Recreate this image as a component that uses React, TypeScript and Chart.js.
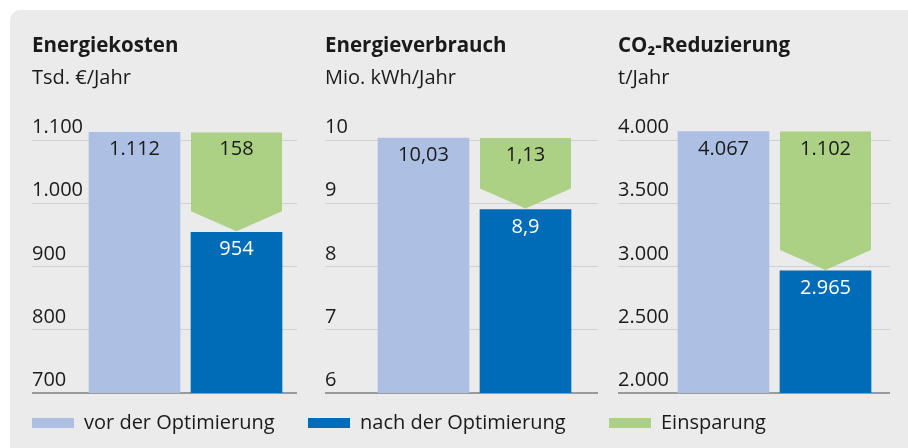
import React, { useEffect, useRef } from "react";
import { Chart, registerables } from "chart.js";

Chart.register(...registerables);

// ---------- data ----------
const categories = ["vor der Optimierung", "nach der Optimierung", "Einsparung"];
const panelTitles = ["Energiekosten", "Energieverbrauch", "CO₂-Reduzierung"];
const panelUnits = ["Tsd. €/Jahr", "Mio. kWh/Jahr", "t/Jahr"];
const vorValues = [1112, 10.03, 4067];
const nachValues = [954, 8.9, 2965];
const einsparungValues = [158, 1.13, 1102];
const ticksKosten = [700, 800, 900, 1000, 1100];
const ticksVerbrauch = [6, 7, 8, 9, 10];
const ticksCO2 = [2000, 2500, 3000, 3500, 4000];
const panelTicks = [ticksKosten, ticksVerbrauch, ticksCO2];

// ---------- style / layout ----------
const FONT = "'Open Sans', 'Noto Sans', sans-serif";
const TEXT = "#1a1a1a";
const C_VOR = "#adc0e4";
const C_NACH = "#006bb6";
const C_EIN = "#acd084";
const BG = "#ebebeb";
const GRID = "#d0d0d0";
const AXIS = "#9a9a9a";
const LEGEND_PAD = 20;
const BAR_W = 91;
const BAR_PITCH = 102;
const layouts = [
  { legendX: 32, labelX: 32, barStart: 89, gridEnd: 297 },
  { legendX: 308, labelX: 325, barStart: 378, gridEnd: 598 },
  { legendX: 609, labelX: 618, barStart: 678, gridEnd: 890 },
];
const CANVAS_TOP = 10;
const CANVAS_H = 433;

function fmtDe(v: number): string {
  const neg = v < 0;
  const s = String(Math.abs(v));
  const [ip, dp] = s.split(".");
  const grouped = ip.replace(/\B(?=(\d{3})+(?!\d))/g, ".");
  return (neg ? "-" : "") + grouped + (dp ? "," + dp : "");
}

const chevronAndLabels = {
  id: "chevronAndLabels",
  beforeDatasetDraw(chart: any, args: any) {
    if (args.index !== 2) return;
    const el = args.meta.data[0];
    if (!el) return false;
    const { ctx } = chart;
    const top = Math.min(el.y, el.base);
    const bottom = Math.max(el.y, el.base) - 1;
    const half = el.width / 2;
    const depth = 20;
    ctx.save();
    ctx.fillStyle = chart.data.datasets[2].backgroundColor;
    ctx.beginPath();
    ctx.moveTo(el.x - half, top);
    ctx.lineTo(el.x + half, top);
    ctx.lineTo(el.x + half, bottom - depth);
    ctx.lineTo(el.x, bottom);
    ctx.lineTo(el.x - half, bottom - depth);
    ctx.closePath();
    ctx.fill();
    ctx.restore();
    return false;
  },
  afterDatasetsDraw(chart: any) {
    const { ctx } = chart;
    const labels: string[] = chart.options.plugins.chevronAndLabels.labels;
    const colors: string[] = chart.options.plugins.chevronAndLabels.colors;
    ctx.save();
    ctx.font = `20px ${FONT}`;
    ctx.textAlign = "center";
    ctx.textBaseline = "alphabetic";
    chart.data.datasets.forEach((ds: any, i: number) => {
      const el = chart.getDatasetMeta(i).data[0];
      if (!el) return;
      const top = Math.min(el.y, el.base);
      ctx.fillStyle = colors[i];
      ctx.fillText(labels[i], el.x, top + 23);
    });
    ctx.restore();
  },
};

function Panel({ idx }: { idx: number }) {
  const ref = useRef<HTMLCanvasElement>(null);
  const L = layouts[idx];
  const left = L.legendX - LEGEND_PAD;
  const width = L.gridEnd - left;
  useEffect(() => {
    const ticks = panelTicks[idx];
    const step = ticks[1] - ticks[0];
    const yMin = ticks[0];
    const yMax = ticks[ticks.length - 1] + step / 2;
    const plotW = L.gridEnd - L.labelX;
    const firstCenter = L.barStart - L.labelX + BAR_W / 2;
    const xMin = -firstCenter / BAR_PITCH;
    const xMax = (plotW - firstCenter) / BAR_PITCH;
    const chart = new Chart(ref.current as HTMLCanvasElement, {
      type: "bar",
      data: {
        datasets: [
          {
            label: categories[0],
            data: [{ x: 0, y: vorValues[idx] }],
            backgroundColor: C_VOR,
            borderWidth: 0,
          },
          {
            label: categories[1],
            data: [{ x: 1, y: nachValues[idx] }],
            backgroundColor: C_NACH,
            borderWidth: 0,
          },
          {
            label: categories[2],
            data: [{ x: 1, y: [nachValues[idx], nachValues[idx] + einsparungValues[idx]] }],
            backgroundColor: C_EIN,
            borderWidth: 0,
          },
        ] as any,
      },
      options: {
        animation: false,
        responsive: false,
        devicePixelRatio: 1,
        grouped: false,
        barThickness: BAR_W,
        layout: { padding: 0 },
        scales: {
          x: {
            type: "linear",
            display: false,
            offset: false,
            min: xMin,
            max: xMax,
          },
          y: {
            type: "linear",
            min: yMin,
            max: yMax,
            afterBuildTicks: (scale: any) => {
              scale.ticks = ticks.map((v) => ({ value: v }));
            },
            afterFit: (scale: any) => {
              scale.width = L.labelX - left;
            },
            border: { display: false },
            grid: {
              drawTicks: false,
              color: (c: any) => (c.tick && c.tick.value === yMin ? AXIS : GRID),
              lineWidth: (c: any) => (c.tick && c.tick.value === yMin ? 2 : 1),
            },
            ticks: {
              mirror: true,
              padding: 0,
              labelOffset: -12.5,
              color: TEXT,
              font: { family: FONT, size: 20 },
              callback: (v: any) => fmtDe(Number(v)),
            },
          },
        } as any,
        plugins: {
          title: {
            display: true,
            text: panelTitles[idx],
            align: "start",
            fullSize: false,
            color: TEXT,
            font: { family: FONT, size: 20.5, weight: "bold", lineHeight: 1.2 },
            padding: { top: 24, bottom: 0 },
          },
          subtitle: {
            display: true,
            text: panelUnits[idx],
            align: "start",
            fullSize: false,
            color: TEXT,
            font: { family: FONT, size: 20, weight: "normal", lineHeight: 1.2 },
            padding: { top: 7.6, bottom: 18.2 },
          },
          legend: {
            display: true,
            position: "bottom",
            align: "start",
            labels: {
              boxWidth: 42,
              boxHeight: 10,
              padding: LEGEND_PAD,
              color: TEXT,
              font: { family: FONT, size: 20 },
              filter: (item: any) => item.datasetIndex === idx,
            },
          },
          tooltip: { enabled: false },
          chevronAndLabels: {
            labels: [fmtDe(vorValues[idx]), fmtDe(nachValues[idx]), fmtDe(einsparungValues[idx])],
            colors: [TEXT, "#ffffff", TEXT],
          },
        } as any,
      },
      plugins: [chevronAndLabels],
    });
    return () => chart.destroy();
  }, [idx]);
  return (
    <canvas
      ref={ref}
      width={width}
      height={CANVAS_H}
      style={{ position: "absolute", left, top: CANVAS_TOP, width, height: CANVAS_H }}
    />
  );
}

export default function App() {
  return (
    <div
      style={{
        position: "fixed",
        left: 0,
        top: 0,
        width: 908,
        height: 448,
        background: "#ffffff",
        overflow: "hidden",
      }}
    >
      <div
        style={{
          position: "absolute",
          left: 10,
          top: 10,
          width: 898,
          height: 438,
          background: BG,
          borderTopLeftRadius: 10,
        }}
      />
      {[0, 1, 2].map((i) => (
        <Panel key={i} idx={i} />
      ))}
    </div>
  );
}
